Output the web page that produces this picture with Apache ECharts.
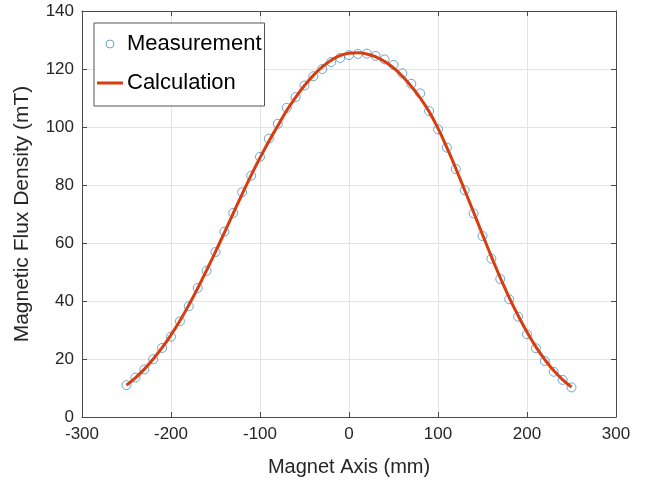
<!DOCTYPE html>
<html lang="en">
<head>
<meta charset="utf-8">
<script src="https://cdn.jsdelivr.net/npm/echarts@6/dist/echarts.min.js"></script>
<style>
  html, body { margin: 0; padding: 0; background: #fff; }
</style>
</head>
<body>
<div id="main" style="width:648px;height:482px"></div>
<script type="text/javascript">
// positions along the magnet axis (mm)
var xPos = [-250, -240, -230, -220, -210, -200, -190, -180, -170, -160,
            -150, -140, -130, -120, -110, -100, -90, -80, -70, -60,
            -50, -40, -30, -20, -10, 0, 10, 20, 30, 40,
            50, 60, 70, 80, 90, 100, 110, 120, 130, 140,
            150, 160, 170, 180, 190, 200, 210, 220, 230, 240, 250];

// measured flux density (mT)
var measured = [11.0, 13.6, 16.4, 19.9, 23.8, 27.7, 33.0, 38.2, 44.5, 50.4,
                56.9, 63.9, 70.4, 77.5, 83.2, 89.7, 96.0, 101.1, 106.6, 110.3,
                114.3, 117.5, 120.0, 122.4, 123.8, 124.8, 125.2, 125.3, 124.5, 123.3,
                121.4, 118.5, 114.9, 111.6, 105.5, 99.2, 92.9, 85.5, 78.2, 70.2,
                62.4, 54.6, 47.6, 40.6, 34.6, 28.5, 23.7, 19.3, 15.6, 12.8, 10.2];

// calculated flux density (mT)
var calculated = [11.0, 13.5, 16.5, 20.0, 23.9, 28.3, 33.2, 38.6, 44.4, 50.6,
                  57.0, 63.6, 70.3, 76.9, 83.3, 89.4, 95.1, 100.4, 105.7, 110.2,
                  114.3, 117.8, 120.7, 123.0, 124.6, 125.4, 125.6, 125.2, 124.2, 122.6,
                  120.4, 117.5, 114.0, 110.0, 105.3, 99.5, 92.9, 85.7, 78.2, 70.6,
                  62.9, 55.3, 48.0, 41.2, 35.0, 29.3, 24.2, 19.8, 16.0, 12.9, 10.3];

var FONT = "'Liberation Sans', Arial, Helvetica, sans-serif";
var BLUE = '#4a90bf';
var RED = '#d73d0f';

function pairs(xs, ys) {
    var out = [];
    for (var i = 0; i < xs.length; i++) out.push([xs[i], ys[i]]);
    return out;
}

var myChart = echarts.init(document.getElementById("main"), null, {renderer: 'canvas'});

var boxAxisLine = {show: true, onZero: false, lineStyle: {color: '#4a4a4a', width: 1}};
var tickIn = {show: true, inside: true, length: 5, lineStyle: {color: '#4a4a4a'}};
var gridLine = {show: true, lineStyle: {color: '#e3e3e3', width: 1}};

option = {
    backgroundColor: '#ffffff',
    animation: false,
    grid: {left: 82, right: 32, top: 11, bottom: 65, containLabel: false},
    legend: {
        orient: 'vertical',
        left: 94,
        top: 23,
        padding: [9, 3, 11, 3],
        itemGap: 15,
        itemWidth: 26,
        itemHeight: 8,
        borderColor: '#555555',
        borderWidth: 1,
        borderRadius: 0,
        backgroundColor: '#ffffff',
        textStyle: {fontFamily: FONT, fontSize: 22, color: '#000', lineHeight: 24, padding: [0, 0, 0, -1]},
        data: [
            {name: 'Measurement', icon: 'circle',
             itemStyle: {color: 'rgba(0,0,0,0)', borderColor: BLUE, borderWidth: 1}},
            {name: 'Calculation', icon: 'path://M0,0 L26,0 L26,3 L0,3 Z',
             itemStyle: {color: RED, borderWidth: 0}}
        ]
    },
    xAxis: [{
        type: 'value',
        min: -300, max: 300, interval: 100,
        name: 'Magnet Axis (mm)',
        nameLocation: 'middle',
        nameGap: 40,
        nameTextStyle: {fontFamily: FONT, fontSize: 20, color: '#262626'},
        axisLine: boxAxisLine,
        axisTick: tickIn,
        axisLabel: {fontFamily: FONT, fontSize: 17, color: '#262626', margin: 9},
        splitLine: gridLine
    }, {
        type: 'value',
        position: 'top',
        min: -300, max: 300, interval: 100,
        axisLine: boxAxisLine,
        axisTick: tickIn,
        axisLabel: {show: false},
        splitLine: {show: false}
    }],
    yAxis: [{
        type: 'value',
        min: 0, max: 140, interval: 20,
        name: 'Magnetic Flux Density (mT)',
        nameLocation: 'middle',
        nameGap: 49,
        nameTextStyle: {fontFamily: FONT, fontSize: 21, color: '#262626'},
        axisLine: boxAxisLine,
        axisTick: tickIn,
        axisLabel: {fontFamily: FONT, fontSize: 17, color: '#262626', margin: 8},
        splitLine: gridLine
    }, {
        type: 'value',
        position: 'right',
        min: 0, max: 140, interval: 20,
        axisLine: boxAxisLine,
        axisTick: tickIn,
        axisLabel: {show: false},
        splitLine: {show: false}
    }],
    series: [
        {
            name: 'Measurement',
            type: 'scatter',
            xAxisIndex: 0,
            yAxisIndex: 0,
            symbol: 'circle',
            symbolSize: 9,
            itemStyle: {color: 'rgba(0,0,0,0)', borderColor: BLUE, borderWidth: 1},
            data: pairs(xPos, measured),
            z: 2
        },
        {
            name: 'Calculation',
            type: 'line',
            xAxisIndex: 0,
            yAxisIndex: 0,
            smooth: true,
            showSymbol: false,
            symbol: 'none',
            lineStyle: {color: RED, width: 3},
            itemStyle: {color: RED},
            data: pairs(xPos, calculated),
            z: 3
        }
    ]
};

myChart.setOption(option);
</script>
</body>
</html>
